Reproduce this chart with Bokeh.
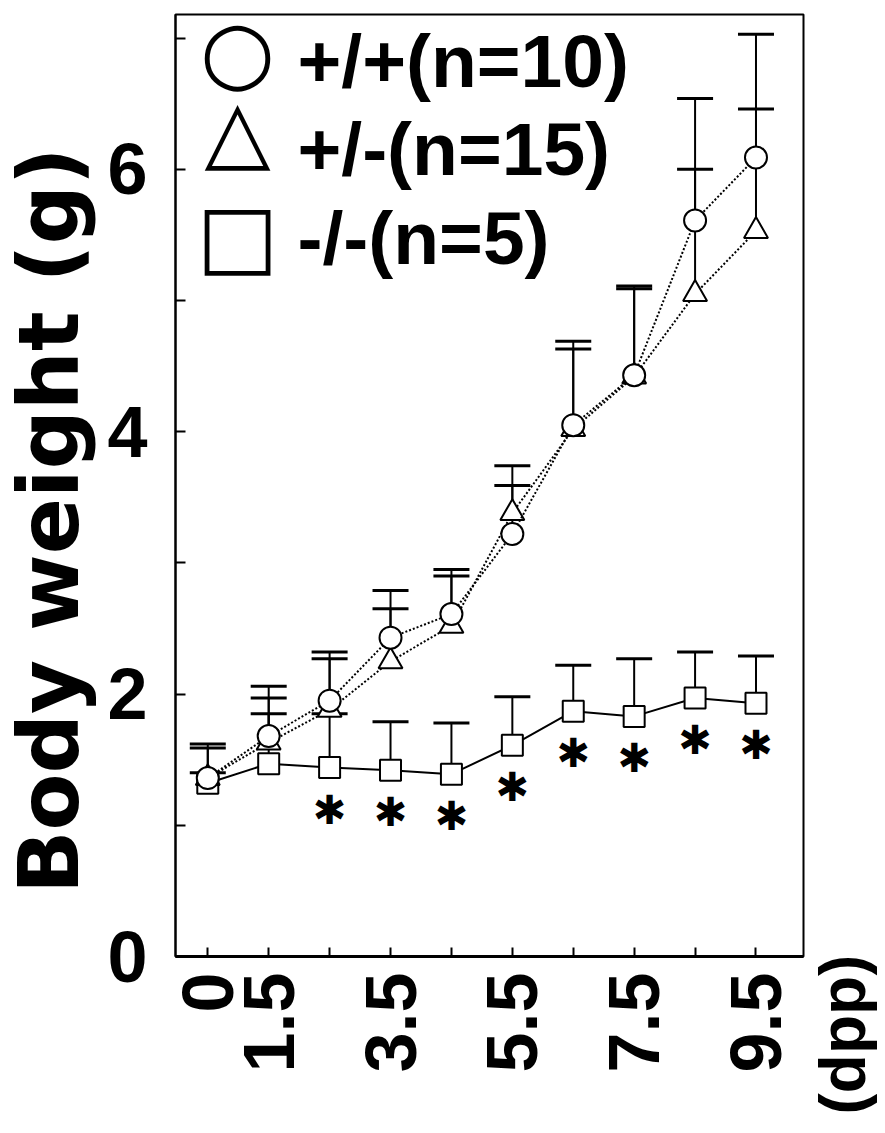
import math
from bokeh.plotting import figure
from bokeh.layouts import row, column
from bokeh.models import (ColumnDataSource, Whisker, TeeHead, FixedTicker, Range1d, Label, Spacer)
from bokeh.core.properties import value
from bokeh.embed import file_html
from bokeh.resources import INLINE

# ---------------- data ----------------
days = ["0", "1.5", "2.5", "3.5", "4.5", "5.5", "6.5", "7.5", "8.5", "9.5"]
day_tick_labels = ["0", "1.5", "", "3.5", "", "5.5", "", "7.5", "", "9.5"]

wt_mean = [1.36, 1.68, 1.95, 2.43, 2.61, 3.22, 4.05, 4.43, 5.61, 6.09]
wt_sd = [0.26, 0.38, 0.37, 0.36, 0.34, 0.52, 0.64, 0.68, 0.93, 0.94]

het_mean = [1.36, 1.63, 1.88, 2.25, 2.52, 3.38, 4.02, 4.42, 5.05, 5.53]
het_sd = [0.23, 0.34, 0.39, 0.40, 0.38, 0.21, 0.61, 0.67, 0.95, 0.93]

ko_mean = [1.32, 1.47, 1.44, 1.42, 1.39, 1.61, 1.87, 1.83, 1.97, 1.93]
ko_sd = [0.08, 0.38, 0.41, 0.37, 0.39, 0.37, 0.35, 0.44, 0.35, 0.36]
ko_sig = ["", "", "✱", "✱", "✱", "✱", "✱", "✱", "✱", "✱"]

legend_labels = ["+/+(n=10)", "+/-(n=15)", "-/-(n=5)"]
legend_symbols = ["○", "△", "□"]

y_ticks = [0, 2, 4, 6]
y_minor = [1, 3, 5, 7]
y_label = "Body weight (g)"
x_unit_label = "(dpp)"

# ---------------- layout constants ----------------
FONT = "Liberation Sans"
H = 1117
TOP, BOTTOM = 14, 161
xpos = [i + 0.5 for i in range(len(days))]

# ---------------- main plot ----------------
p = figure(width=705, height=H, x_range=Range1d(-0.03, 10.28), y_range=Range1d(0, 7.18),
           output_backend="svg", toolbar_location=None,
           min_border_left=75, min_border_right=2, min_border_top=TOP, min_border_bottom=BOTTOM)
p.grid.visible = False
p.outline_line_color = "black"
p.outline_line_width = 2
p.background_fill_color = "white"
p.border_fill_color = "white"

xa = p.xaxis[0]
xa.ticker = FixedTicker(ticks=xpos, minor_ticks=[])
xa.major_label_overrides = {xp: lab for xp, lab in zip(xpos, day_tick_labels)}
xa.major_tick_in = 9
xa.major_tick_out = 0
xa.major_tick_line_width = 2
xa.axis_line_width = 3
xa.major_label_orientation = math.pi / 2
xa.major_label_text_font = FONT
xa.major_label_text_font_style = "bold"
xa.major_label_text_font_size = "72px"
xa.major_label_text_color = "black"
xa.major_label_standoff = 16

ya = p.yaxis[0]
ya.ticker = FixedTicker(ticks=y_ticks, minor_ticks=y_minor)
ya.major_tick_in = 10
ya.major_tick_out = 0
ya.minor_tick_in = 10
ya.minor_tick_out = 0
ya.major_tick_line_width = 2
ya.minor_tick_line_width = 2
ya.axis_line_width = 2
ya.major_label_text_font = FONT
ya.major_label_text_font_style = "bold"
ya.major_label_text_font_size = "72px"
ya.major_label_text_color = "black"
ya.major_label_standoff = 28

# ---------------- series ----------------
def series(mean, sd, marker, size, dash):
    src = ColumnDataSource(dict(x=xpos, y=mean, top=[m + s for m, s in zip(mean, sd)]))
    p.line("x", "y", source=src, line_color="black", line_width=2, line_dash=dash)
    p.add_layout(Whisker(base="x", lower="y", upper="top", source=src, line_color="black",
                         line_width=2, lower_head=None,
                         upper_head=TeeHead(size=36, line_width=3, line_color="black")))
    p.scatter("x", "y", source=src, marker=marker, size=size, fill_color="white",
              line_color="black", line_width=2)

series(ko_mean, ko_sd, "square", 21, "solid")
series(het_mean, het_sd, "triangle", 24, "2 2")
series(wt_mean, wt_sd, "circle", 22, "2 2")

sig_src = ColumnDataSource(dict(x=xpos, y=ko_mean, t=ko_sig))
p.text("x", "y", text="t", source=sig_src, y_offset=42, text_align="center", text_baseline="middle",
       text_font=value("DejaVu Sans"), text_font_size="40px", text_color="black")

# legend drawn as annotations (screen units relative to the frame)
sym_y = [906, 827, 722]
lab_y = [896, 808, 719]
for sym, lab, sy, ly in zip(legend_symbols, legend_labels, sym_y, lab_y):
    p.add_layout(Label(x=62, y=sy, x_units="screen", y_units="screen", text=sym,
                       text_font="DejaVu Sans", text_font_size="86px", text_align="center",
                       text_baseline="middle", text_color="black"))
    p.add_layout(Label(x=122, y=ly, x_units="screen", y_units="screen", text=lab,
                       text_font=FONT, text_font_style="bold", text_font_size="75px",
                       text_align="left", text_baseline="alphabetic", text_color="black"))

# ---------------- y label panel (left) ----------------
p0 = figure(width=100, height=H, x_range=Range1d(0, 1), y_range=Range1d(0, 1),
            output_backend="svg", toolbar_location=None, x_axis_type=None, y_axis_type=None,
            min_border_left=0, min_border_right=0, min_border_top=TOP, min_border_bottom=BOTTOM)
p0.grid.visible = False
p0.outline_line_color = None
p0.add_layout(Label(x=49, y=436, x_units="screen", y_units="screen", text=y_label, angle=90,
                    angle_units="deg", text_font="DejaVu Sans", text_font_style="bold",
                    text_font_size="83px", text_align="center", text_baseline="alphabetic",
                    text_color="black"))

# ---------------- unit label panel (bottom right) ----------------
W2 = 72
p2 = figure(width=W2, height=217, x_range=Range1d(0, 1), y_range=Range1d(0, 1),
            output_backend="svg", toolbar_location=None, x_axis_type=None, y_axis_type=None,
            min_border=0)
p2.grid.visible = False
p2.outline_line_color = None
p2.add_layout(Label(x=37, y=3, x_units="screen", y_units="screen", text=x_unit_label, angle=90,
                    angle_units="deg", text_font=FONT, text_font_style="bold", text_font_size="64px",
                    text_align="left", text_baseline="alphabetic", text_color="black"))

right_col = column(Spacer(width=W2, height=H - 217), p2, spacing=0)
layout = row(p0, p, right_col, spacing=0)
open("out.html", "w").write(file_html(layout, INLINE))
